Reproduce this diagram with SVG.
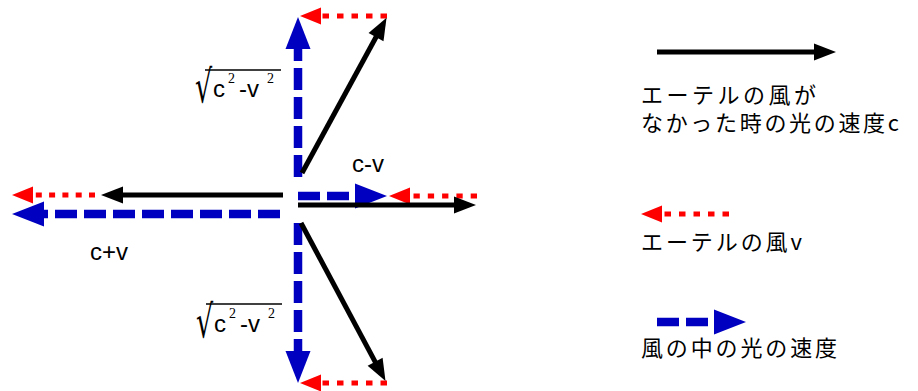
<svg xmlns="http://www.w3.org/2000/svg" width="918" height="391" viewBox="0 0 918 391">
<style>
.blk{stroke:#000;stroke-width:5;fill:none;marker-end:url(#hb)}
.red{stroke:#ff0000;stroke-width:5;fill:none;stroke-dasharray:6.5 8;marker-end:url(#hr)}
.blu{stroke:#0000c0;stroke-width:8.5;fill:none;stroke-dasharray:22 7;marker-end:url(#hu)}
.lat{font-family:"Liberation Sans",Arial,sans-serif;font-size:24px;fill:#000}
.sup{font-family:"Liberation Serif","Times New Roman",serif;font-size:14px;fill:#000}
.rad{font-family:"DejaVu Sans",sans-serif;font-size:30px;fill:#000}
.jp{font-family:"Noto Sans CJK JP","Liberation Sans",sans-serif;font-size:22px;fill:#000}
.vin{stroke:#000;stroke-width:1.5}
</style>
<defs>
<marker id="hb" markerUnits="userSpaceOnUse" markerWidth="24" markerHeight="17" refX="1" refY="8.5" orient="auto" overflow="visible"><path d="M0,0 L22,8.5 L0,17 z" fill="#000"/></marker>
<marker id="hr" markerUnits="userSpaceOnUse" markerWidth="23" markerHeight="17" refX="1" refY="8.5" orient="auto" overflow="visible"><path d="M0,0 L21,8.5 L0,17 z" fill="#ff0000"/></marker>
<marker id="hu" markerUnits="userSpaceOnUse" markerWidth="34" markerHeight="25" refX="1" refY="12.5" orient="auto" overflow="visible"><path d="M0,0 L32,12.5 L0,25 z" fill="#0000c0"/></marker>
</defs>
<g id="connectors">
<path class="red" d="M387,16 L320,16"/>
<path class="red" d="M387,383 L320,383"/>
<path class="blu" d="M298,177 L298,48"/>
<path class="blu" d="M298,223 L298,352"/>
<path class="blk" d="M302,173 L376.5,36.3"/>
<path class="blk" d="M301,223 L375.6,362.6"/>
<path class="red" d="M95,195 L32,195" style="stroke-dasharray:6 7.3"/>
<path class="blk" d="M283,195 L122,195"/>
<path class="blu" d="M280,214 L43,214"/>
<path class="blu" d="M298,196 L356,196"/>
<path class="red" d="M477,196 L409,196" style="stroke-dasharray:6.3 8"/>
<path class="blk" d="M298,205 L455,205"/>
</g>
<g id="label-cv"><text class="lat" x="352" y="172">c-v</text></g>
<g id="label-cpv"><text class="lat" x="90" y="260">c+v</text></g>
<g id="label-sqrt-top">
<text class="rad" transform="translate(195,102) scale(0.9,1.5)">√</text>
<line class="vin" x1="205" y1="70" x2="281" y2="70"/>
<text class="lat" x="213" y="97">c</text><text class="sup" x="228" y="83">2</text>
<text class="lat" x="239" y="97">-v</text><text class="sup" x="267" y="83">2</text>
</g>
<g id="label-sqrt-bottom">
<text class="rad" transform="translate(196,337) scale(0.9,1.5)">√</text>
<line class="vin" x1="206" y1="304" x2="282" y2="304"/>
<text class="lat" x="214" y="332">c</text><text class="sup" x="229" y="318">2</text>
<text class="lat" x="240" y="332">-v</text><text class="sup" x="268" y="318">2</text>
</g>
<g id="legend-c">
<path class="blk" d="M657,52 L815,52"/>
<text class="jp" x="641" y="103" textLength="175" lengthAdjust="spacing">エーテルの風が</text>
<text class="jp" x="641" y="131" textLength="258" lengthAdjust="spacing">なかった時の光の速度c</text>
</g>
<g id="legend-v">
<path class="red" d="M729,214 L661,214"/>
<text class="jp" x="641" y="250" textLength="161" lengthAdjust="spacing">エーテルの風v</text>
</g>
<g id="legend-light">
<path class="blu" d="M657,322 L715,322"/>
<text class="jp" x="641" y="356" textLength="196" lengthAdjust="spacing">風の中の光の速度</text>
</g>
</svg>
